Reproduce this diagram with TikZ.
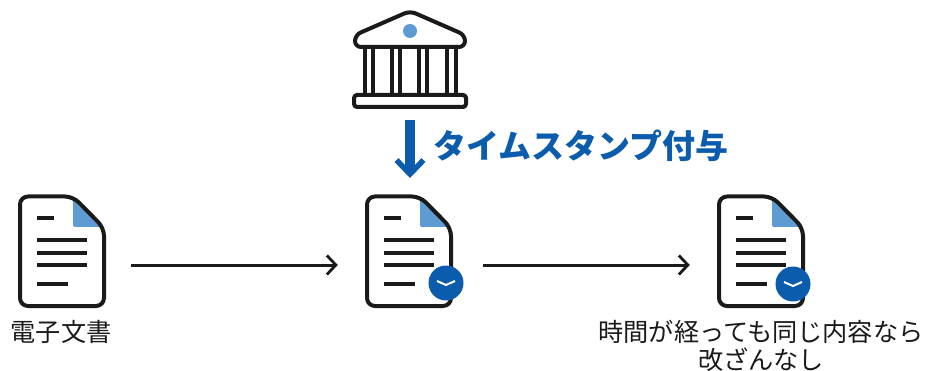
\documentclass[tikz,border=0pt]{standalone}
\usepackage{fontspec}
\setmainfont{Noto Sans CJK JP}
\usetikzlibrary{arrows.meta}
\definecolor{stampblue}{HTML}{0B5CAD}
\definecolor{foldblue}{HTML}{5F9BD3}
\definecolor{inkblack}{HTML}{1A1A1A}
\tikzset{
  outline/.style={draw=inkblack, line width=4pt, line join=round},
  textline/.style={draw=inkblack, line width=3.2pt},
  port/.style={inner sep=0pt, minimum width=142pt, minimum height=20pt},
  flow/.style={draw=inkblack, line width=3pt, -{Straight Barb[length=9pt,width=19pt,line width=2.8pt]}},
  stamp/.style={draw=stampblue, line width=9.5pt, -{Straight Barb[length=14pt,width=27pt,line width=5.5pt]}},
  caption/.style={inner sep=0pt, text=inkblack, font=\fontsize{25.2pt}{28pt}\selectfont, align=center}
}
\begin{document}
\begin{tikzpicture}[x=1pt, y=-1pt]
 \useasboundingbox (0,0) rectangle (928,371);

 % documents
 \foreach \i/\n in {0/doca,347/docb,699/docc} {
   \fill[foldblue, rounded corners=2pt] (\i+73,197) -- (\i+103,227) -- (\i+73,227) -- cycle;
   \path[outline, rounded corners=8pt] (\i+50,196.5) -- (\i+20,196.5) -- (\i+20,306) -- (\i+104,306) -- (\i+104,228) -- (\i+73,196.5) -- cycle;
   \draw[textline] (\i+37,218) -- (\i+54,218);
   \foreach \y in {240,253,265}
     \draw[textline] (\i+37,\y) -- (\i+87,\y);
   \draw[textline] (\i+37,284) -- (\i+68,284);
   \node[port] (\n) at (\i+62,265) {};
 }

 % clocks
 \foreach \x/\y/\n in {446/283/clockb,793/284/clockc} {
   \node[circle, fill=stampblue, inner sep=0pt, minimum size=35pt] (\n) at (\x,\y) {};
   \draw[white, line width=2pt] (\x-9,\y-2) -- (\x,\y+2) -- (\x+9,\y-2);
 }

 % bank
 \foreach \x in {365,373,392,400,419,427,447,456}
   \draw[outline, line width=3.4pt] (\x,47) -- (\x,96);
 \path[outline, fill=white, rounded corners=6pt] (380,47) -- (355,47) -- (355,35) -- (410,11) -- (465,35) -- (465,47) -- cycle;
 \path[outline, fill=white, rounded corners=3pt] (354,95) rectangle (466,107);
 \fill[foldblue] (410,31) circle (7pt);
 \node[inner sep=0pt, minimum width=114pt, minimum height=120pt] (bank) at (410,60) {};

 % lines
 \coordinate (stampend) at (410,178);
 \path[stamp] (bank.south) -- (stampend);
 \path[flow] ([xshift=-2pt]doca.east) -- (docb.west);
 \path[flow] ([xshift=3pt]docb.east) -- (docc.west);

 % labels
 \node[inner sep=0pt, text=stampblue, font=\fontsize{33pt}{36pt}\selectfont\bfseries] (stamplabel) at (581,146) {タイムスタンプ付与};
 \node[caption] (labela) at (61,332) {電子文書};
 \node[caption] (labelc) at (761,346) {時間が経っても同じ内容なら\\[-0.5pt]改ざんなし};

\end{tikzpicture}
\end{document}
